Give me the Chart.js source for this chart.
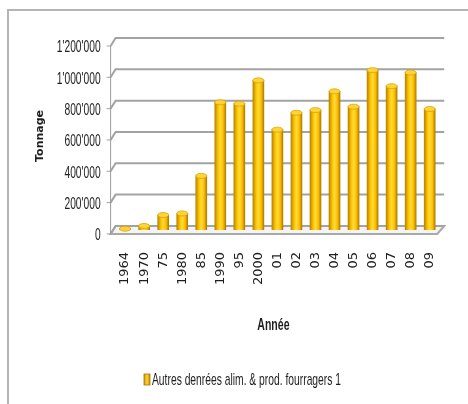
<!DOCTYPE html>
<html>
<head>
<meta charset="utf-8">
<script src="https://cdn.jsdelivr.net/npm/chart.js@4.4.1/dist/chart.umd.min.js"></script>
<style>
  html, body { margin: 0; padding: 0; background: #fff; }
  #wrap { width: 468px; height: 404px; position: relative; }
</style>
</head>
<body>
<div id="wrap"><canvas id="tonnageChart" width="468" height="404"></canvas></div>
<script>
// Années et tonnage (autres denrées alimentaires & produits fourragers)
const years = ["1964", "1970", "75", "1980", "85", "1990", "95", "2000", "01", "02", "03", "04", "05", "06", "07", "08", "09"];
const tonnage = [8000, 25000, 95000, 105000, 345000, 815000, 806000, 955000, 640000, 748000, 765000, 885000, 787000, 1020000, 918000, 1005000, 772000];
const seriesName = "Autres denrées alim. & prod. fourragers 1";
const xTitle = "Année";
const yTitle = "Tonnage";
const yMax = 1200000;
const yStep = 200000;

// 3D offset between the front edge and the back wall
const DEPTH_X = 5;
const DEPTH_Y = 4;
const NARROW = "'Liberation Sans', Arial, sans-serif";

function swissNumber(v) {
  return v.toString().replace(/\B(?=(\d{3})+(?!\d))/g, "'");
}

// condensed text: normal face squeezed horizontally
function squeezedText(c, text, x, y, font, scaleX, align) {
  c.save();
  c.font = font;
  c.fillStyle = "#1e1e1e";
  c.textBaseline = "middle";
  c.textAlign = align;
  c.translate(x, y);
  c.scale(scaleX, 1);
  c.fillText(text, 0, 0);
  c.restore();
}

function cylinderFill(ctx) {
  const chart = ctx.chart;
  if (!chart.chartArea) return "#FFC000";
  const x = chart.scales.x.getPixelForValue(ctx.dataIndex);
  const g = chart.ctx.createLinearGradient(x - 5.5, 0, x + 5.5, 0);
  g.addColorStop(0, "#B98600");
  g.addColorStop(0.3, "#FFC400");
  g.addColorStop(0.5, "#FFDB3A");
  g.addColorStop(0.75, "#FFC000");
  g.addColorStop(1, "#B07E00");
  return g;
}

// floor, back wall gridlines and the slanted left wall
const wallsPlugin = {
  id: "walls",
  beforeDatasetsDraw(chart) {
    const c = chart.ctx;
    const y = chart.scales.y;
    const L = chart.chartArea.left;
    const R = chart.chartArea.right;
    const base = y.getPixelForValue(0);
    c.save();
    c.lineWidth = 2;

    // floor
    c.beginPath();
    c.moveTo(L - DEPTH_X, base + DEPTH_Y);
    c.lineTo(R - 2, base + DEPTH_Y);
    c.lineTo(R + DEPTH_X, base - DEPTH_Y);
    c.lineTo(L, base - DEPTH_Y);
    c.closePath();
    c.fillStyle = "#f4f4f4";
    c.fill();
    c.strokeStyle = "#a9a9a9";
    c.stroke();

    for (let v = 0; v <= yMax; v += yStep) {
      const p = y.getPixelForValue(v);
      c.strokeStyle = "#a3a3a3";
      c.beginPath();
      c.moveTo(L - DEPTH_X, p + DEPTH_Y);
      c.lineTo(L, p - DEPTH_Y);
      c.lineTo(R + DEPTH_X, p - DEPTH_Y);
      c.stroke();
      // tick mark on the front edge
      c.lineWidth = 1;
      c.beginPath();
      c.moveTo(L - DEPTH_X - 4, p + DEPTH_Y);
      c.lineTo(L - DEPTH_X, p + DEPTH_Y);
      c.stroke();
      c.lineWidth = 2;
      squeezedText(c, swissNumber(v), L - 15, p + DEPTH_Y + 2, "16px " + NARROW, 0.64, "right");
    }
    // front edge of the left wall
    c.lineWidth = 1;
    c.strokeStyle = "#9a9a9a";
    c.beginPath();
    c.moveTo(L - DEPTH_X, y.getPixelForValue(yMax) + DEPTH_Y);
    c.lineTo(L - DEPTH_X, base + DEPTH_Y);
    c.stroke();
    c.restore();
  },
  afterDatasetsDraw(chart) {
    // top caps of the cylinders
    const c = chart.ctx;
    const meta = chart.getDatasetMeta(0);
    c.save();
    meta.data.forEach(bar => {
      const w = bar.width / 2;
      c.beginPath();
      c.ellipse(bar.x, bar.y, w, 2.5, 0, 0, Math.PI * 2);
      c.fillStyle = "#FFD43B";
      c.fill();
      c.strokeStyle = "#D9A200";
      c.lineWidth = 0.8;
      c.stroke();
    });
    c.restore();
  }
};

// cadre, titre de l'axe x et légende
const framePlugin = {
  id: "frame",
  beforeDraw(chart) {
    const c = chart.ctx;
    c.save();
    c.fillStyle = "#fff";
    c.fillRect(0, 0, chart.width, chart.height);
    c.strokeStyle = "#b4b4b4";
    c.lineWidth = 2;
    c.beginPath();
    c.moveTo(8, chart.height);
    c.lineTo(8, 10);
    c.lineTo(chart.width, 10);
    c.stroke();
    c.restore();
  },
  afterDraw(chart) {
    const c = chart.ctx;
    const area = chart.chartArea;
    const mid = (area.left + area.right) / 2;
    squeezedText(c, xTitle, mid - 4, 325, "bold 17px " + NARROW, 0.62, "center");

    // legend entry
    c.save();
    const key = c.createLinearGradient(144, 0, 150, 0);
    key.addColorStop(0, "#C99400");
    key.addColorStop(0.5, "#FFD23A");
    key.addColorStop(1, "#C08A00");
    c.fillStyle = key;
    c.fillRect(144, 374, 6, 11);
    c.strokeStyle = "#A87A00";
    c.lineWidth = 0.8;
    c.strokeRect(144, 374, 6, 11);
    c.font = "17px " + NARROW;
    const w = c.measureText(seriesName).width;
    c.restore();
    squeezedText(c, seriesName, 152, 380, "17px " + NARROW, 189 / w, "left");
  }
};

new Chart(document.getElementById("tonnageChart"), {
  type: "bar",
  data: {
    labels: years,
    datasets: [{
      label: seriesName,
      data: tonnage,
      backgroundColor: cylinderFill,
      borderWidth: 0,
      barThickness: 11
    }]
  },
  options: {
    responsive: false,
    animation: false,
    layout: { padding: { left: 20, right: 24, top: 42, bottom: 97 } },
    plugins: {
      legend: { display: false },
      tooltip: { enabled: false }
    },
    scales: {
      x: {
        grid: { display: false, drawTicks: false },
        border: { display: false },
        ticks: {
          minRotation: 90,
          maxRotation: 90,
          padding: 22,
          color: "#1e1e1e",
          font: { family: "'DejaVu Sans'", size: 13 }
        }
      },
      y: {
        min: 0,
        max: yMax,
        grid: { display: false, drawTicks: false },
        border: { display: false },
        ticks: { display: false, stepSize: yStep },
        title: {
          display: true,
          text: yTitle,
          color: "#1e1e1e",
          padding: { top: 13.4, bottom: 69 },
          font: { family: "'DejaVu Sans'", size: 11, weight: "bold" }
        }
      }
    }
  },
  plugins: [framePlugin, wallsPlugin]
});
</script>
</body>
</html>
